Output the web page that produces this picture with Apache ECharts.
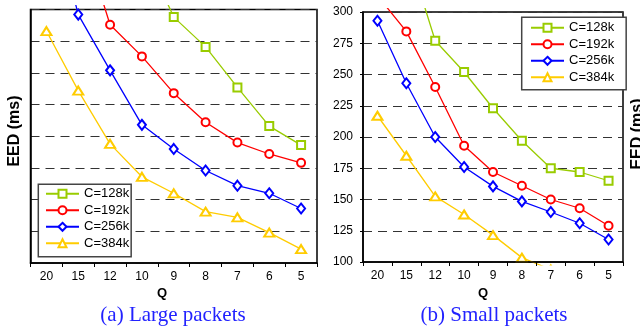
<!DOCTYPE html>
<html>
<head>
<meta charset="utf-8">
<script src="https://cdn.jsdelivr.net/npm/echarts@6/dist/echarts.min.js"></script>
<style>
  html, body { margin: 0; padding: 0; background: #fff; }
  #chart { width: 640px; height: 329px; }
</style>
</head>
<body>
<div id="chart"></div>
<script>
// categories (Q), same for both panels
var qLabels = ['20', '15', '12', '10', '9', '8', '7', '6', '5']
var seriesNames = ['C=128k', 'C=192k', 'C=256k', 'C=384k']

// (a) large packets - y axis has no labels in the picture, same grid spacing used
var largeC128 = [null, null, null, 349, 294, 270.5, 238.5, 208, 193]
var largeC192 = [null, 368, 288, 263, 234, 211, 195, 186, 179]
var largeC256 = [395, 296, 252, 209, 190, 173, 161, 155, 143]
var largeC384 = [283, 236, 194, 168, 155, 140.5, 136, 124, 111]

// (b) small packets
var smallC128 = [null, 351, 277, 252, 223, 197, 175, 172, 165]
var smallC192 = [313, 284.5, 240, 193, 172, 161, 150, 143, 129]
var smallC256 = [293, 243, 200, 176, 160.5, 148.5, 140, 131, 118]
var smallC384 = [217, 185, 152.5, 138, 121.5, 103.5, 94, null, null]

var yTicks = [100, 125, 150, 175, 200, 225, 250, 275, 300]

var colors = ['#99cc00', '#ff0000', '#0000ff', '#ffcc00']
var symbols = ['emptyRect', 'emptyCircle', 'emptyDiamond', 'emptyTriangle']
var symbolSizes = [8, 8, [8, 10], [10, 8]]
var fontFamily = '"Liberation Sans", Arial, sans-serif'

var chart = echarts.init(document.getElementById('chart'))

function xAxisFor(grid) {
  return {
    type: 'category',
    gridIndex: grid,
    data: qLabels,
    z: 30,
    axisLine: { lineStyle: { color: '#000', width: 1.5 } },
    axisTick: { show: true, length: 4, lineStyle: { color: '#000' } },
    axisLabel: { color: '#000', fontSize: 12, fontFamily: fontFamily, margin: 8 },
    splitLine: { show: false }
  }
}

function yAxisFor(grid, showLabels) {
  return {
    type: 'value',
    gridIndex: grid,
    min: yTicks[0],
    max: yTicks[yTicks.length - 1],
    interval: 25,
    axisLine: { show: true, lineStyle: { color: '#000', width: 1.5 } },
    axisTick: { show: showLabels, length: 3, lineStyle: { color: '#000' } },
    axisLabel: { show: showLabels, color: '#000', fontSize: 12, fontFamily: fontFamily, margin: 10 },
    splitLine: { show: true, lineStyle: { color: '#333', type: [9, 6], width: 1 } }
  }
}

function makeSeries(name, data, i, grid) {
  return {
    name: name,
    type: 'line',
    xAxisIndex: grid,
    yAxisIndex: grid,
    z: 2,
    data: data,
    clip: false,
    symbol: symbols[i],
    symbolSize: symbolSizes[i],
    connectNulls: false,
    itemStyle: { color: colors[i], borderWidth: 1.3 },
    lineStyle: { color: colors[i], width: 1.3 }
  }
}

var largeData = [largeC128, largeC192, largeC256, largeC384]
var smallData = [smallC128, smallC192, smallC256, smallC384]
var series = []
seriesNames.forEach(function (n, i) { series.push(makeSeries(n, largeData[i], i, 0)) })
seriesNames.forEach(function (n, i) { series.push(makeSeries(n, smallData[i], i, 1)) })

function legendAt(left, top, pad) {
  return {
    orient: 'vertical',
    left: left,
    top: top,
    z: 40,
    data: seriesNames,
    itemWidth: 33,
    itemHeight: 10,
    itemGap: 3.5,
    padding: pad,
    backgroundColor: '#fff',
    borderColor: '#444',
    borderWidth: 1.5,
    borderRadius: 0,
    selectedMode: false,
    textStyle: { color: '#000', fontSize: 13, fontFamily: fontFamily, lineHeight: 13 }
  }
}

var option = {
  animation: false,
  backgroundColor: '#fff',
  grid: [
    { left: 30.5, top: 9.5, width: 286.5, height: 253.5, show: true, borderColor: '#000', borderWidth: 1.5 },
    { left: 363, top: 12, width: 260, height: 250, show: true, borderColor: '#000', borderWidth: 1.5 }
  ],
  xAxis: [xAxisFor(0), xAxisFor(1)],
  yAxis: [yAxisFor(0, false), yAxisFor(1, true)],
  legend: [
    legendAt(38.3, 184.3, [3, 2, 7, 6.7]),
    legendAt(521.7, 17.3, [4, 12, 6, 8.3])
  ],
  series: series,
  graphic: [
    // lines run a few pixels past the frame, then stop
    { type: 'rect', z: 20, silent: true, shape: { x: 29, y: 0, width: 290, height: 5 }, style: { fill: '#fff' } },
    { type: 'rect', z: 20, silent: true, shape: { x: 362, y: 0, width: 263, height: 8 }, style: { fill: '#fff' } },
    { type: 'rect', z: 20, silent: true, shape: { x: 362, y: 265.5, width: 263, height: 40 }, style: { fill: '#fff' } },
    { type: 'text', z: 50, x: 15, y: 131, rotation: Math.PI / 2,
      style: { text: 'EED (ms)', fill: '#000', font: 'bold 16px ' + fontFamily, align: 'center', verticalAlign: 'middle' } },
    { type: 'text', z: 50, x: 637.5, y: 134, rotation: Math.PI / 2,
      style: { text: 'EED (ms)', fill: '#000', font: 'bold 16px ' + fontFamily, align: 'center', verticalAlign: 'middle' } },
    { type: 'text', z: 50, x: 162, y: 293,
      style: { text: 'Q', fill: '#000', font: 'bold 13px ' + fontFamily, align: 'center', verticalAlign: 'middle' } },
    { type: 'text', z: 50, x: 483, y: 293,
      style: { text: 'Q', fill: '#000', font: 'bold 13px ' + fontFamily, align: 'center', verticalAlign: 'middle' } },
    { type: 'text', z: 50, x: 173, y: 315,
      style: { text: '(a) Large packets', fill: '#2222ff', font: '21px "Liberation Serif", "Times New Roman", serif', align: 'center', verticalAlign: 'middle' } },
    { type: 'text', z: 50, x: 494, y: 315,
      style: { text: '(b) Small packets', fill: '#2222ff', font: '21px "Liberation Serif", "Times New Roman", serif', align: 'center', verticalAlign: 'middle' } }
  ]
}

chart.setOption(option)
</script>
</body>
</html>
